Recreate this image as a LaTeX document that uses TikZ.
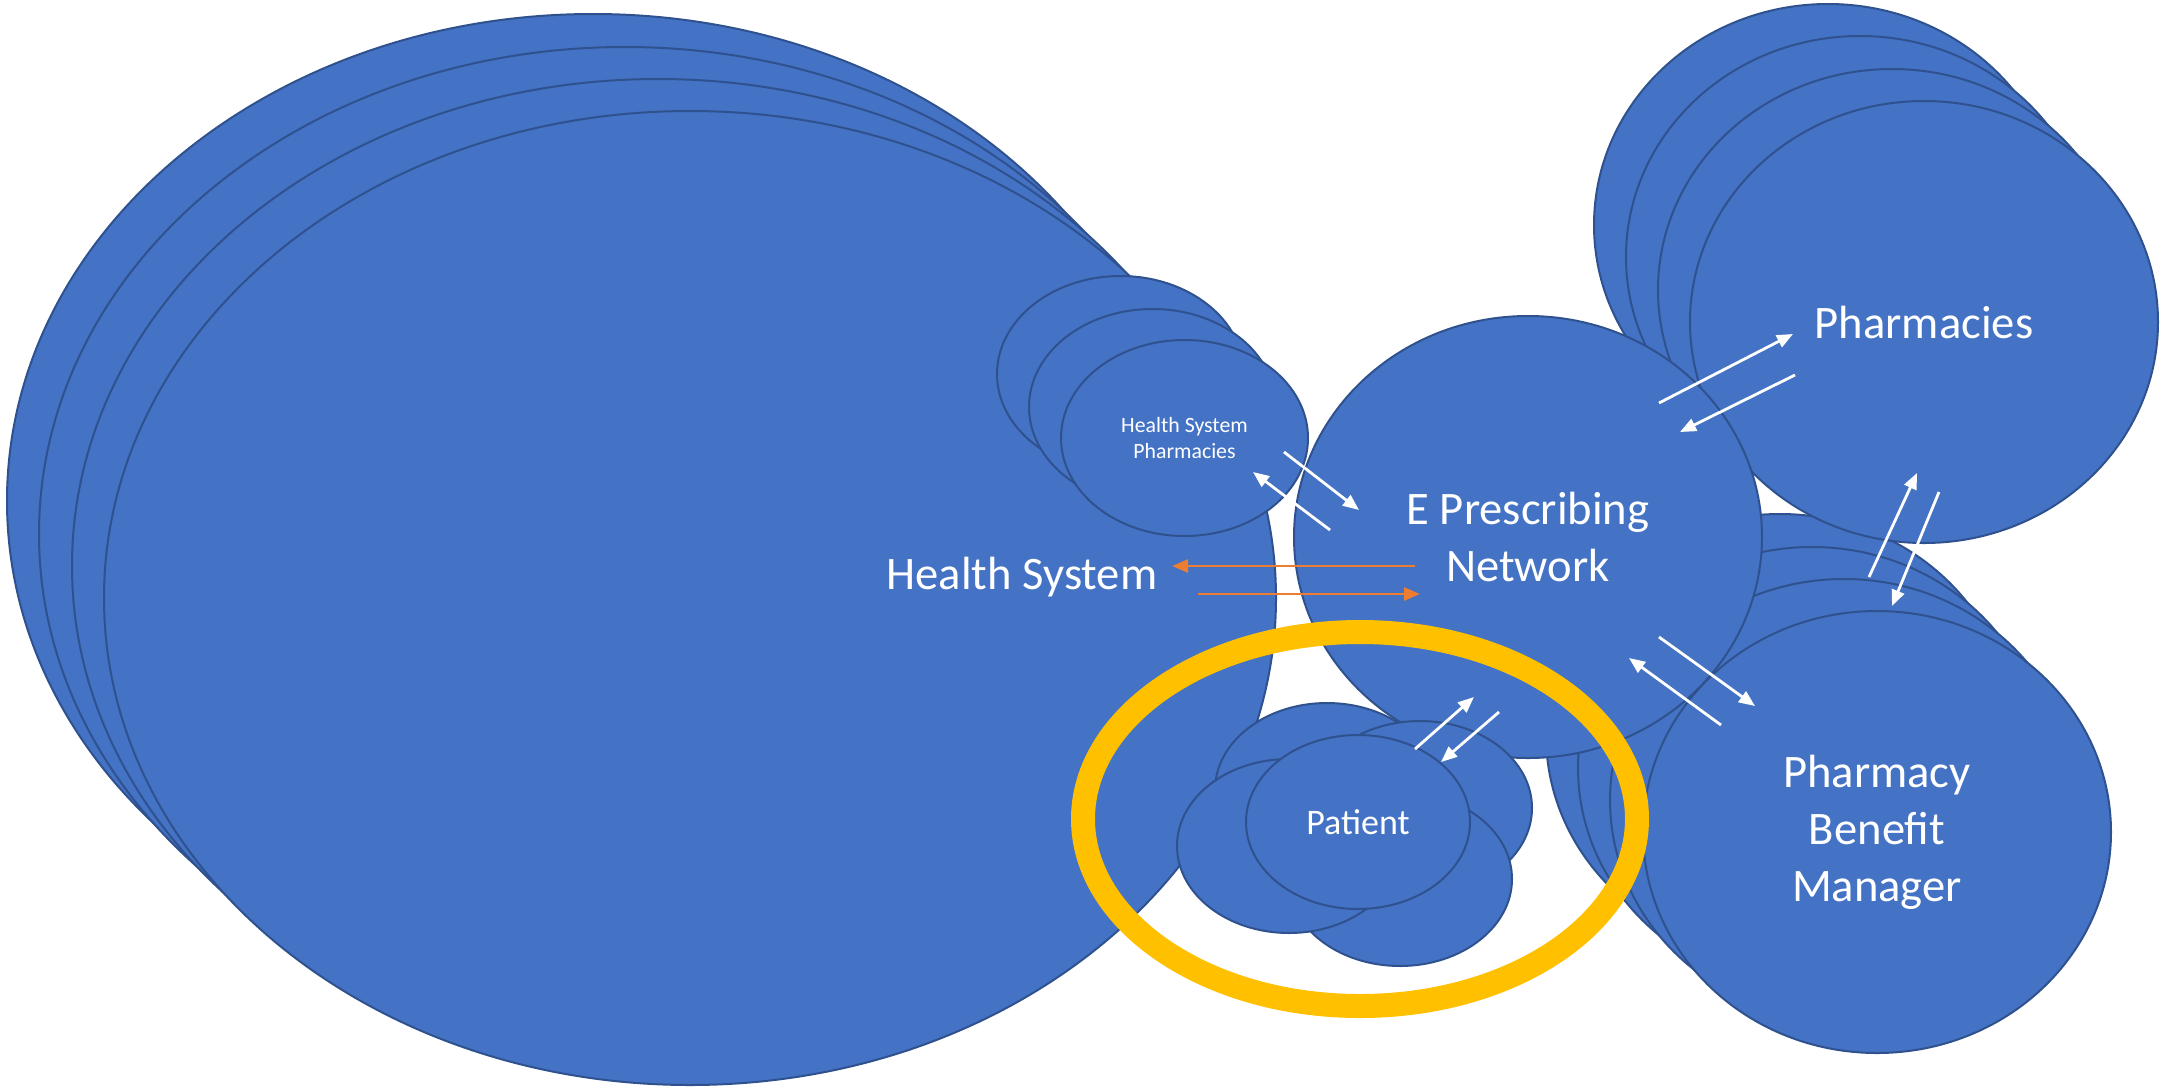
\documentclass[tikz,border=0pt]{standalone}
\usepackage{fontspec}
\setmainfont{Carlito}
\usetikzlibrary{shapes.geometric,arrows.meta}
\definecolor{bluefill}{HTML}{4472C4}
\definecolor{blueline}{HTML}{2F528F}
\definecolor{goldring}{HTML}{FFC000}
\definecolor{orangearrow}{HTML}{ED7D31}
\begin{document}
\begin{tikzpicture}[x=0.5pt,y=-0.5pt,
 blob/.style={ellipse, draw=blueline, fill=bluefill, line width=1pt, inner sep=0pt, outer sep=0pt, text=white, align=center},
 hsbig/.style={blob, minimum width=586pt, minimum height=487pt},
 hspbox/.style={blob, minimum width=123.5pt, minimum height=98pt, font=\fontsize{10.9}{13}\selectfont},
 bigc/.style={blob, minimum width=234pt, minimum height=221pt, font=\fontsize{23.3}{28.5}\selectfont},
 patbox/.style={blob, minimum width=112pt, minimum height=87pt, font=\fontsize{18}{22}\selectfont},
 flow/.style={draw=white, line width=1.4pt, -{Triangle[length=8pt,width=6.5pt]}},
 oflow/.style={draw=orangearrow, line width=1.4pt, -{Triangle[length=8pt,width=6.5pt]}},
 biglabel/.style={text=white, inner sep=0pt, font=\fontsize{23.3}{28.5}\selectfont}
]
\fill[white] (0,0) rectangle (2164,1088);
\useasboundingbox (0,0) rectangle (2164,1088);

% Health System stack
\node[hsbig] (hs1) at (593,501) {};
\node[hsbig] (hs2) at (625,534) {};
\node[hsbig] (hs3) at (658,566) {};
\node[hsbig] (hs) at (690,598) {};
\node[biglabel] (hslabel) at (1022,577) {Health System};

% Health System Pharmacies stack
\node[hspbox] (hsp1) at (1120.5,374) {};
\node[hspbox] (hsp2) at (1152.5,407) {};
\node[hspbox] (hsp) at (1184.5,438) {Health System\\Pharmacies};

% PBM stack
\node[bigc] (pbm1) at (1780,735) {};
\node[bigc] (pbm2) at (1812,768) {};
\node[bigc] (pbm3) at (1844,800) {};
\node[bigc] (pbm) at (1877,832) {Pharmacy\\Benefit\\Manager};

% Pharmacies stack
\node[bigc] (ph1) at (1828,225) {};
\node[bigc] (ph2) at (1860,257) {};
\node[bigc] (ph3) at (1892,290) {};
\node[bigc] (ph) at (1924,322) {Pharmacies};

% E Prescribing Network
\node[bigc] (ep) at (1528,537) {E Prescribing\\Network};

% Patient cluster
\node[patbox] (pul) at (1327,790) {};
\node[patbox] (pur) at (1420,808) {};
\node[patbox] (plr) at (1400,879) {};
\node[patbox] (pll) at (1289,846) {};
\node[patbox] (patient) at (1358,822) {Patient};

% Gold ring
\node[ellipse, draw=goldring, line width=12pt, minimum width=277pt, minimum height=187pt, inner sep=0pt] (ring) at (1360,819) {};

% arrow end points
\coordinate (a1s) at (1284,452); \coordinate (a1e) at (1359,510);
\coordinate (a2s) at (1330,530); \coordinate (a2e) at (1253,472);
\coordinate (b1s) at (1659,403); \coordinate (b1e) at (1793,334);
\coordinate (b2s) at (1795,375); \coordinate (b2e) at (1680,432);
\coordinate (c1s) at (1869,577); \coordinate (c1e) at (1917,473);
\coordinate (c2s) at (1939,492); \coordinate (c2e) at (1892,606);
\coordinate (d1s) at (1659,637); \coordinate (d1e) at (1755,706);
\coordinate (d2s) at (1721,725); \coordinate (d2e) at (1629,658);
\coordinate (e1s) at (1415,749); \coordinate (e1e) at (1474,697);
\coordinate (e2s) at (1499,712); \coordinate (e2e) at (1441,762);
\coordinate (o1s) at (1415,566); \coordinate (o1e) at (1172,566);
\coordinate (o2s) at (1198,594); \coordinate (o2e) at (1420,594);

\draw[flow] (a1s) -- (a1e);
\draw[flow] (a2s) -- (a2e);
\draw[flow] (b1s) -- (b1e);
\draw[flow] (b2s) -- (b2e);
\draw[flow] (c1s) -- (c1e);
\draw[flow] (c2s) -- (c2e);
\draw[flow] (d1s) -- (d1e);
\draw[flow] (d2s) -- (d2e);
\draw[flow] (e1s) -- (e1e);
\draw[flow] (e2s) -- (e2e);
\draw[oflow] (o1s) -- (o1e);
\draw[oflow] (o2s) -- (o2e);
\end{tikzpicture}
\end{document}
